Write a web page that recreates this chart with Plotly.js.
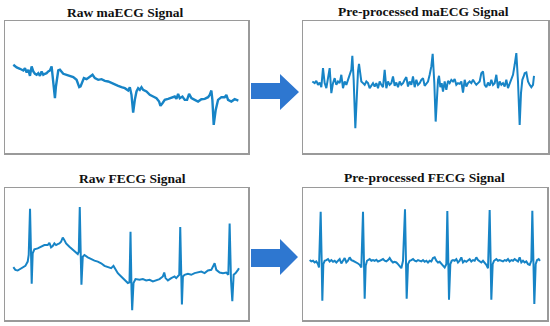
<!DOCTYPE html>
<html>
<head>
<meta charset="utf-8">
<script src="https://cdn.plot.ly/plotly-3.0.1.min.js"></script>
<style>html,body{margin:0;padding:0;background:#fff;}#chart{width:550px;height:326px;}</style>
</head>
<body>
<div id="chart"></div>
<script>
// Panel titles
const panelTitles = ["Raw maECG Signal", "Pre-processed maECG Signal", "Raw FECG Signal", "Pre-processed FECG Signal"];

// Raw maECG signal (sample index, amplitude)
const rawMaT = [40,50,60,70,75,80,85,90,95,100,105,110,115,120,125,130,135,140,145,150,155,160,165,168,172,175,180,185,190,200,210,220,230,238,242,248,252,260,270,278,285,295,305,315,325,335,345,355,365,375,385,390,395,400,405,410,415,420,425,430,440,450,460,470,478,482,488,495,505,515,525,530,535,540,548,555,562,568,575,585,595,605,615,625,630,635,638,642,648,655,665,675,680,685,695,705,712,716];
const rawMaV = [105,97,93,88,95,82,90,72,100,85,78,75,80,72,85,75,78,80,85,88,100,60,5,40,70,88,90,82,78,75,72,68,60,38,40,55,65,62,68,75,65,60,62,57,55,50,45,42,38,35,28,38,15,-38,0,25,35,30,38,30,25,15,10,5,-5,-18,-10,0,3,7,10,3,18,5,10,0,0,18,5,0,-5,2,3,8,15,28,0,-75,-30,0,8,8,15,0,-5,2,0,-2];

// Pre-processed maECG signal
const preMaT = [38,45,50,55,60,65,70,75,80,85,90,95,100,105,110,115,120,125,130,135,140,145,150,155,158,162,167,172,175,178,182,185,190,195,200,205,210,215,220,225,230,235,240,245,250,255,260,265,270,275,280,285,290,295,300,305,310,315,320,325,330,335,340,345,350,355,360,365,370,375,380,385,390,395,399,404,408,412,415,418,422,426,430,435,440,445,450,455,460,465,470,475,480,485,490,495,500,505,510,515,520,525,530,535,540,545,550,555,560,565,570,575,580,585,590,595,600,605,610,615,620,625,630,635,640,645,650,655,660,664,668,672,675,680,685,690,695,700,703];
const preMaV = [55,50,57,45,52,38,95,50,35,60,95,20,50,65,45,55,50,75,35,55,45,60,75,90,132,60,-85,30,85,108,75,55,50,45,55,50,35,42,50,40,50,35,55,45,38,90,35,55,45,50,70,42,52,38,55,45,50,60,68,40,55,45,70,38,60,45,50,60,65,42,50,55,75,100,138,50,-65,10,60,72,38,50,25,55,30,57,50,60,55,62,45,50,48,55,22,60,40,50,55,50,60,52,45,50,55,80,85,45,38,52,42,60,45,50,75,35,55,45,50,40,60,35,50,65,75,105,140,55,-75,20,60,70,80,82,55,45,38,45,72];

// Raw FECG signal
const rawFeT = [42,48,55,62,70,78,85,88,92,95,97,100,105,115,125,135,145,150,155,160,165,170,175,180,185,190,195,200,210,220,230,235,238,241,244,246,250,255,265,275,285,295,305,315,325,335,342,348,355,365,375,385,390,393,396,398,402,408,420,430,440,450,460,470,480,490,494,498,505,515,525,530,535,539,542,545,547,550,555,565,575,585,595,605,615,625,635,640,645,650,660,670,680,686,690,694,698,702,708,715,718];
const rawFeV = [-22,-30,-32,-28,-25,-18,-5,15,155,0,-72,20,32,35,40,45,45,52,38,42,50,45,48,50,55,68,60,50,40,32,22,18,25,160,10,-75,10,15,8,2,-2,-5,-10,-18,-22,-25,-18,-30,-40,-50,-60,-70,-68,85,-90,-152,-70,-58,-60,-58,-62,-60,-65,-62,-58,-50,-38,-55,-62,-55,-50,-55,-48,-45,100,-80,-135,-50,-45,-42,-45,-40,-38,-35,-40,-32,-30,-22,-10,-30,-38,-40,-38,-45,110,-60,-125,-45,-40,-30,-25];

// Pre-processed FECG signal
const preFeT = [30,35,40,45,50,55,58,63,66,68,71,75,80,85,90,95,100,105,110,115,120,125,130,135,140,145,150,155,160,165,170,175,180,185,190,193,195,198,202,210,215,220,225,230,235,240,245,250,255,260,265,270,275,280,285,290,295,300,305,310,316,319,321,325,330,335,340,345,350,355,360,365,370,375,380,385,390,395,400,405,410,415,420,425,430,435,440,443,446,448,452,456,460,465,470,475,480,485,490,495,500,505,510,515,520,525,530,535,540,545,550,555,560,565,570,573,575,579,583,590,595,600,605,610,615,620,625,630,635,640,645,650,655,660,665,670,675,680,685,690,695,698,701,704,708,712,717,721];
const preFeV = [2,-2,0,-5,-2,-10,-20,145,0,-118,-10,0,2,5,-2,2,-3,0,-5,0,5,-8,0,8,-5,0,10,2,0,-2,-5,-8,-12,-20,145,0,-112,-15,0,5,0,2,0,3,-2,0,2,5,0,-2,2,8,0,-5,-3,-5,-10,-18,-22,0,152,-5,-112,-10,0,2,5,0,-2,2,0,-2,2,-3,0,-5,0,-2,8,10,0,-5,-3,-8,-12,-20,-10,147,-5,-115,-10,0,2,0,5,-5,0,10,-5,0,-3,0,5,-2,2,0,10,2,-2,-5,0,-5,-12,-22,150,-5,-115,-10,0,5,0,2,0,-2,2,0,5,-2,2,0,5,0,-2,10,-5,0,-5,-2,-10,-12,0,148,-5,-128,-10,2,5,0];

const lineColor = "#1784c6";
const boxColor = "#9a9a9a";

function trace(x, y, xa, ya, w) {
  return {x: x, y: y, xaxis: xa, yaxis: ya, type: "scatter", mode: "lines",
          line: {color: lineColor, width: w, shape: "linear"}, hoverinfo: "skip", showlegend: false};
}

const data = [
  trace(rawMaT, rawMaV, "x", "y", 2.4),
  trace(preMaT, preMaV, "x2", "y2", 2),
  trace(rawFeT, rawFeV, "x3", "y3", 2),
  trace(preFeT, preFeV, "x4", "y4", 2)
];

function ax(domain, range, anchor) {
  return {domain: domain, range: range, anchor: anchor, showgrid: false, zeroline: false,
          showticklabels: false, ticks: "", showline: true, mirror: true,
          linecolor: boxColor, linewidth: 1.5, fixedrange: true};
}

const W = 550, H = 326;
const px = v => v / W, py = v => 1 - v / H;

const titleFont = {family: "'Liberation Serif', 'Times New Roman', Times, 'DejaVu Serif', serif", size: 13.5, color: "#111"};
function title(text, x, y) {
  return {text: "<b>" + text + "</b>", xref: "paper", yref: "paper", x: px(x), y: py(y),
          xanchor: "center", yanchor: "middle", showarrow: false, font: titleFont};
}

function arrowPath(x0, xh, xt, sy0, sy1, hy0, hy1, ty) {
  return "M " + px(x0) + " " + py(sy0) + " L " + px(xh) + " " + py(sy0) + " L " + px(xh) + " " + py(hy0) +
         " L " + px(xt) + " " + py(ty) + " L " + px(xh) + " " + py(hy1) + " L " + px(xh) + " " + py(sy1) +
         " L " + px(x0) + " " + py(sy1) + " Z";
}

const layout = {
  width: W, height: H,
  margin: {l: 0, r: 0, t: 0, b: 0},
  paper_bgcolor: "#fff", plot_bgcolor: "#fff",
  font: {family: "'Liberation Serif', 'Times New Roman', serif"},
  showlegend: false,
  xaxis:  ax([px(5), px(248)], [15, 745], "y"),
  yaxis:  ax([py(153), py(21)], [-159, 236], "x"),
  xaxis2: ax([px(303), px(548)], [10, 745], "y2"),
  yaxis2: ax([py(153), py(21)], [-159, 236], "x2"),
  xaxis3: ax([px(5), px(248)], [17, 745], "y3"),
  yaxis3: ax([py(320), py(188)], [-182, 218], "x3"),
  xaxis4: ax([px(303), px(547)], [10, 742], "y4"),
  yaxis4: ax([py(320), py(188)], [-175, 215], "x4"),
  annotations: [
    title(panelTitles[0], 125, 12),
    title(panelTitles[1], 423, 11),
    title(panelTitles[2], 132, 178),
    title(panelTitles[3], 424, 177)
  ],
  shapes: [
    {type: "path", xref: "paper", yref: "paper", path: arrowPath(251, 280, 299, 83, 99, 74, 110, 92),
     fillcolor: "#2e77d0", line: {width: 0}},
    {type: "path", xref: "paper", yref: "paper", path: arrowPath(251, 280, 298, 249, 267, 239, 275, 257),
     fillcolor: "#2e77d0", line: {width: 0}}
  ]
};

Plotly.newPlot("chart", data, layout, {staticPlot: true, displayModeBar: false});
</script>
</body>
</html>
